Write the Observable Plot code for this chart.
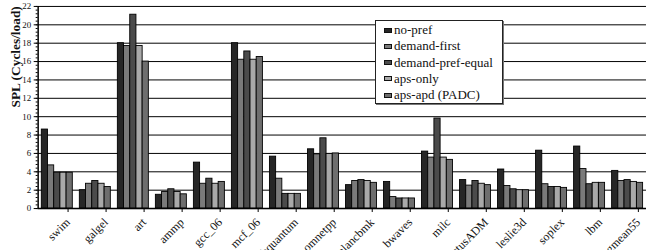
<!DOCTYPE html>
<html><head><meta charset="utf-8">
<script src="https://cdn.jsdelivr.net/npm/d3@7"></script>
<script src="https://cdn.jsdelivr.net/npm/@observablehq/plot@0.6"></script>
<style>
html,body{margin:0;padding:0;background:#fff;overflow:hidden;}
#wrap{position:relative;width:646px;height:252px;overflow:hidden;}
#legend{position:absolute;left:375px;top:20px;width:126px;height:82px;border:1px solid #222;box-shadow:1px 1px 0 #777;background:#fff;font-family:"Liberation Serif","Times New Roman",serif;font-size:13px;color:#111;box-sizing:content-box;}
#legend .row{position:absolute;left:8px;height:16px;line-height:16px;white-space:nowrap;}
#legend .sw{display:inline-block;width:6px;height:3px;border:1px solid #111;margin-right:2px;vertical-align:middle;position:relative;top:-1px;}
</style>
</head><body>
<div id="wrap"><div id="chart"></div><div id="legend"></div></div>
<script>
const benchmarks = ["swim","galgel","art","ammp","gcc_06","mcf_06","libquantum","omnetpp","xalancbmk","bwaves","milc","cactusADM","leslie3d","soplex","lbm","gmean55"];
const series = ["no-pref","demand-first","demand-pref-equal","aps-only","aps-apd (PADC)"];
const seriesColors = ["#262626","#7a7a7a","#4b4b4b","#a9a9a9","#6e6e6e"];
const noPref          = [8.6, 2.0, 18.0, 1.5, 5.0, 18.0, 5.65, 6.45, 2.55, 2.9, 6.2, 3.1, 4.25, 6.3, 6.75, 4.1];
const demandFirst     = [4.7, 2.7, 17.7, 1.8, 2.7, 16.2, 3.25, 5.9, 3.0, 1.25, 5.55, 2.5, 2.45, 2.65, 4.3, 3.0];
const demandPrefEqual = [3.9, 3.0, 21.1, 2.1, 3.25, 17.1, 1.6, 7.65, 3.1, 1.1, 9.8, 3.0, 2.1, 2.35, 2.65, 3.1];
const apsOnly         = [3.9, 2.7, 17.7, 1.8, 2.7, 16.2, 1.6, 5.95, 3.0, 1.1, 5.55, 2.7, 2.0, 2.35, 2.8, 2.9];
const apsApd          = [3.9, 2.35, 16.0, 1.55, 2.9, 16.5, 1.6, 6.0, 2.8, 1.1, 5.3, 2.55, 2.0, 2.25, 2.8, 2.8];
const yTicks = d3.range(0, 23, 2);
const yLabel = "SPL (Cycles/load)";

const valuesBySeries = [noPref, demandFirst, demandPrefEqual, apsOnly, apsApd];
const groupOffset = 0.096, barFrac = 0.163;
const rows = benchmarks.flatMap((b, k) => series.map((s, i) => ({k, i, bench: b, series: s, value: valuesBySeries[i][k]})));

const chart = Plot.plot({
  width: 652, height: 252,
  marginLeft: 38, marginRight: 0, marginTop: 6, marginBottom: 42,
  style: {fontFamily: "'Liberation Serif','Times New Roman',serif", color: "#111", background: "#fff"},
  x: {type: "linear", domain: [0, benchmarks.length], axis: null},
  y: {domain: [0, 22], axis: null},
  color: {domain: series, range: seriesColors},
  marks: [
    Plot.ruleY(yTicks, {stroke: "#000", strokeWidth: 1}),
    Plot.rectY(rows, {
      x1: d => d.k + groupOffset + d.i * barFrac,
      x2: d => d.k + groupOffset + (d.i + 1) * barFrac,
      y: "value", fill: "series", stroke: "#000", strokeWidth: 0.9
    }),
    Plot.ruleX([0], {stroke: "#000", strokeWidth: 1.5}),
    Plot.ruleY([0], {stroke: "#000", strokeWidth: 1.5}),
    Plot.axisY({ticks: d3.range(0, 22.01, 0.4), tickSize: 2, tickFormat: () => "", stroke: "#000", label: null}),
    Plot.axisY({ticks: yTicks, tickSize: 4, tickPadding: 3, fontSize: 9, stroke: "#000", fill: "#111", label: null}),
    Plot.axisX({ticks: benchmarks.map((b, k) => k + 0.5), tickFormat: v => benchmarks[Math.floor(v)], tickRotate: -45, tickSize: 4, fontSize: 12, dx: 11, dy: 0, stroke: "#000", fill: "#111", label: null}),
    Plot.text([yLabel], {frameAnchor: "left", dx: -23, rotate: -90, fontSize: 13.5, fontWeight: "bold", fill: "#111"})
  ]
});
document.getElementById("chart").appendChild(chart);

const legend = document.getElementById("legend");
series.forEach((s, i) => {
  const row = document.createElement("div");
  row.className = "row";
  row.style.top = (1 + i * 16.3) + "px";
  row.innerHTML = `<span class="sw" style="background:${seriesColors[i]}"></span>${s}`;
  legend.appendChild(row);
});
</script>
</body></html>
